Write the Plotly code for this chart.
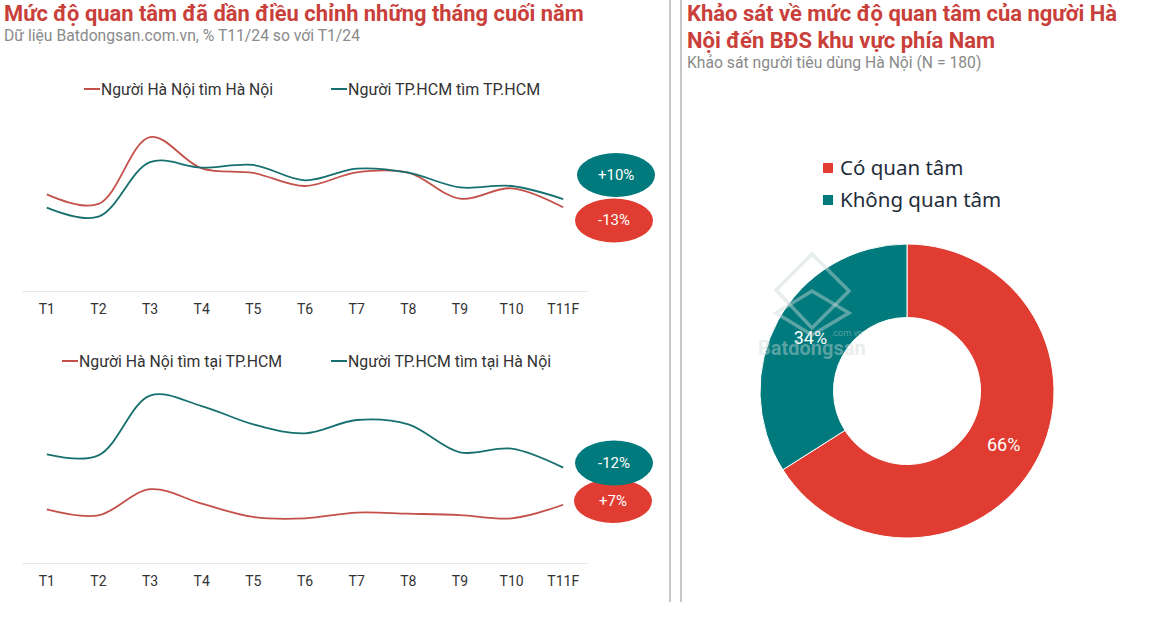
import plotly.graph_objects as go

MONTHS = ["T1", "T2", "T3", "T4", "T5", "T6", "T7", "T8", "T9", "T10", "T11F"]
# monthly index, axis starts at 0
HN_HN = [100.2, 90.2, 159.5, 127.1, 122.3, 108.8, 123, 122.6, 95.7, 106.4, 86.7]
HCM_HCM = [86.4, 77, 133.5, 127.8, 130.6, 114.7, 126.8, 122.6, 107.4, 108.8, 95.3]
HN_HCM = [55.6, 49.4, 76.5, 61.5, 47.7, 46.3, 52.2, 51.1, 49.7, 46.3, 60.4]
HCM_HN = [112.6, 111.6, 173.5, 162.7, 143.7, 134.4, 148.2, 143.7, 114.7, 118.5, 98.8]
PIE_LABELS = ["Có quan tâm", "Không quan tâm"]
PIE_VALUES = [66, 34]

W, H = 1160, 622
RED = "#E03C31"
TEAL = "#007A7C"
LINE_RED = "#C4504A"
LINE_TEAL = "#17706F"
TITLE_RED = "#C9403A"
GRAY = "#8A8A8A"
DARK = "#333333"
FONT = "Roboto"
MARK = "rgba(205,215,215,0.45)"


def px(x):
    return x / W


def py(y):
    return 1 - y / H


def curve(y, name, color, xaxis, yaxis):
    return go.Scatter(x=list(range(len(MONTHS))), y=y, name=name, xaxis=xaxis, yaxis=yaxis, showlegend=False,
                      mode="lines", line=dict(color=color, width=1.8, shape="spline", smoothing=1))


fig = go.Figure()
fig.add_trace(curve(HN_HN, "Người Hà Nội tìm Hà Nội", LINE_RED, "x", "y"))
fig.add_trace(curve(HCM_HCM, "Người TP.HCM tìm TP.HCM", LINE_TEAL, "x", "y"))
fig.add_trace(curve(HN_HCM, "Người Hà Nội tìm tại TP.HCM", LINE_RED, "x2", "y2"))
fig.add_trace(curve(HCM_HN, "Người TP.HCM tìm tại Hà Nội", LINE_TEAL, "x2", "y2"))
fig.add_trace(go.Pie(labels=PIE_LABELS, values=PIE_VALUES, hole=0.5, sort=False, direction="clockwise",
                     rotation=0, marker=dict(colors=[RED, TEAL], line=dict(color="white", width=1)),
                     textinfo="percent", textfont=dict(color="white", size=18, family=FONT),
                     insidetextorientation="horizontal", showlegend=False,
                     domain=dict(x=[px(760), px(1054)], y=[py(538), py(244)])))

x_axis = dict(tickmode="array", tickvals=list(range(11)), ticktext=MONTHS, range=[-0.48, 10.48],
              showgrid=False, zeroline=False, showline=True, linecolor="#E8E8E8", linewidth=1,
              ticks="", ticklen=0, ticklabelstandoff=5, tickfont=dict(family=FONT, size=14, color=DARK))
fig.update_layout(
    width=W, height=H, margin=dict(l=0, r=0, t=0, b=0), paper_bgcolor="white", plot_bgcolor="white",
    font=dict(family=FONT), showlegend=False,
    xaxis=dict(domain=[px(22), px(588)], anchor="y", **x_axis),
    xaxis2=dict(domain=[px(22), px(588)], anchor="y2", **x_axis),
    yaxis=dict(domain=[py(291), py(125)], range=[0, 172], visible=False),
    yaxis2=dict(domain=[py(563), py(385)], range=[0, 184.5], visible=False),
)


def label(x, y, text, size, color, bold=False, xanchor="left", family=FONT):
    fig.add_annotation(xref="paper", yref="paper", x=px(x), y=py(y), text=f"<b>{text}</b>" if bold else text,
                       showarrow=False, xanchor=xanchor, yanchor="middle", borderpad=0,
                       font=dict(family=family, size=size, color=color))


def seg(x0, y0, x1, y1, color, width):
    fig.add_shape(type="line", xref="paper", yref="paper", x0=px(x0), y0=py(y0), x1=px(x1), y1=py(y1),
                  line=dict(color=color, width=width))


def bubble(cx, cy, rx, ry, color, text):
    fig.add_shape(type="circle", xref="paper", yref="paper", x0=px(cx - rx), x1=px(cx + rx),
                  y0=py(cy + ry), y1=py(cy - ry), fillcolor=color, line=dict(width=0))
    label(cx, cy, text, 15, "white", xanchor="center")


def swatch(x, y, size, color):
    fig.add_shape(type="rect", xref="paper", yref="paper", x0=px(x), x1=px(x + size),
                  y0=py(y + size / 2), y1=py(y - size / 2), fillcolor=color, line=dict(width=0))


def outline(points):
    path = "M " + " L ".join(f"{px(x)} {py(y)}" for x, y in points) + " Z"
    fig.add_shape(type="path", xref="paper", yref="paper", path=path, layer="above",
                  line=dict(color=MARK, width=3.5))


label(3, 14, "Mức độ quan tâm đã dần điều chỉnh những tháng cuối năm", 21.9, TITLE_RED, bold=True)
label(3, 36, "Dữ liệu Batdongsan.com.vn, % T11/24 so với T1/24", 15.7, GRAY)
label(686, 14, "Khảo sát về mức độ quan tâm của người Hà", 22, TITLE_RED, bold=True)
label(686, 40, "Nội đến BĐS khu vực phía Nam", 22, TITLE_RED, bold=True)
label(686, 63, "Khảo sát người tiêu dùng Hà Nội (N = 180)", 15.7, GRAY)

# line legends
seg(84, 89, 100, 89, LINE_RED, 2)
label(100, 89, "Người Hà Nội tìm Hà Nội", 15.7, DARK)
seg(331, 89, 347, 89, LINE_TEAL, 2)
label(347, 89, "Người TP.HCM tìm TP.HCM", 16, DARK)
seg(62, 361, 78, 361, LINE_RED, 2)
label(78, 361, "Người Hà Nội tìm tại TP.HCM", 15.8, DARK)
seg(331, 361, 347, 361, LINE_TEAL, 2)
label(347, 361, "Người TP.HCM tìm tại Hà Nội", 15.8, DARK)

# pie legend
swatch(823, 168, 10, RED)
label(839, 167, PIE_LABELS[0], 20.5, "#1F2D3A", family="Noto Sans")
swatch(823, 200, 10, TEAL)
label(839, 199.5, PIE_LABELS[1], 20.5, "#1F2D3A", family="Noto Sans")

bubble(616, 175, 39, 22, TEAL, "+10%")
bubble(614, 220.5, 39, 22, RED, "-13%")
bubble(613, 501, 39, 22, RED, "+7%")
bubble(614, 463, 39, 22.5, TEAL, "-12%")

seg(670, 0, 670, 602, "#B5B5B5", 1.5)
seg(681, 0, 681, 602, "#B5B5B5", 1.5)

# faint watermark over the donut
outline([(776, 290), (812, 254), (849, 291), (812, 328)])
outline([(776, 313), (812, 291), (849, 313), (812, 335)])
label(812, 348, "Batdongsan", 20, MARK, bold=True, xanchor="center")
label(847, 333, ".com.vn", 9, MARK, xanchor="center")

fig.write_html("out.html", config={"displayModeBar": False}, post_script="document.body.style.margin='0';")
